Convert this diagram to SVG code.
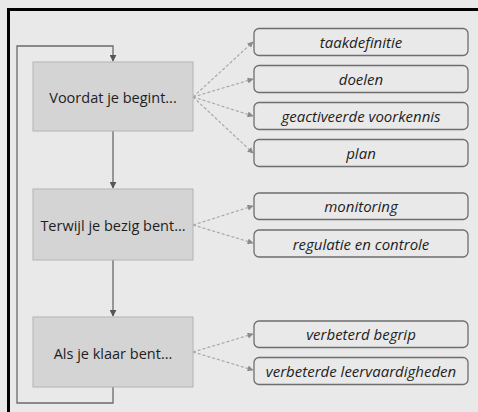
<svg xmlns="http://www.w3.org/2000/svg" width="478" height="412" viewBox="0 0 478 412">
<defs>
<style>
.phase rect{fill:#d4d4d4;stroke:#b4b4b4;stroke-width:1}
.phase text{font-family:"Open Sans","Liberation Sans",sans-serif;font-size:14.5px;fill:#1e1e1e;text-anchor:middle;dominant-baseline:central}
.item rect{fill:#e9e9e9;stroke:#6e6e6e;stroke-width:1.3}
.item text{font-family:"Open Sans","Liberation Sans",sans-serif;font-size:15px;font-style:italic;fill:#1e1e1e;text-anchor:middle;dominant-baseline:central}
.solid{fill:none;stroke:#6a6a6a;stroke-width:1.3}
.dash{fill:none;stroke:#a8a8a8;stroke-width:1.2;stroke-dasharray:3 2}
</style>
<marker id="ah" viewBox="0 0 10 10" refX="9" refY="5" markerWidth="7" markerHeight="7" markerUnits="userSpaceOnUse" orient="auto">
<path d="M0,0 L10,5 L0,10 z" fill="#555"/>
</marker>
<marker id="ahd" viewBox="0 0 10 10" refX="9" refY="5" markerWidth="6" markerHeight="6" markerUnits="userSpaceOnUse" orient="auto">
<path d="M0,0 L10,5 L0,10 z" fill="#8a8a8a"/>
</marker>
</defs>
<rect x="0" y="0" width="478" height="412" fill="#e9e9e9"/>
<path d="M8.5,412 V9.5 H478" fill="none" stroke="#000" stroke-width="3"/>

<g id="connectors">
<path class="solid" d="M113,387 V403 H17 V46 H113 V61" marker-end="url(#ah)"/>
<path class="solid" d="M113,131 V188" marker-end="url(#ah)"/>
<path class="solid" d="M113,260 V316" marker-end="url(#ah)"/>
<path class="dash" d="M193,97 L253,42" marker-end="url(#ahd)"/>
<path class="dash" d="M193,97 L253,79" marker-end="url(#ahd)"/>
<path class="dash" d="M193,97 L253,116" marker-end="url(#ahd)"/>
<path class="dash" d="M193,97 L253,153" marker-end="url(#ahd)"/>
<path class="dash" d="M193,225 L253,206" marker-end="url(#ahd)"/>
<path class="dash" d="M193,225 L253,243" marker-end="url(#ahd)"/>
<path class="dash" d="M193,352 L253,334" marker-end="url(#ahd)"/>
<path class="dash" d="M193,352 L253,370" marker-end="url(#ahd)"/>
</g>

<g id="voordat" class="phase"><rect x="33" y="62" width="160" height="69"/><text x="113" y="97">Voordat je begint...</text></g>
<g id="terwijl" class="phase"><rect x="33" y="189" width="160" height="71"/><text x="113" y="225">Terwijl je bezig bent...</text></g>
<g id="klaar" class="phase"><rect x="33" y="317" width="160" height="70"/><text x="113" y="353">Als je klaar bent...</text></g>

<g id="taakdefinitie" class="item"><rect x="254" y="28.5" width="214" height="27" rx="5"/><text x="361" y="42">taakdefinitie</text></g>
<g id="doelen" class="item"><rect x="254" y="65.5" width="214" height="27" rx="5"/><text x="361" y="79">doelen</text></g>
<g id="voorkennis" class="item"><rect x="254" y="102.5" width="214" height="27" rx="5"/><text x="361" y="116">geactiveerde voorkennis</text></g>
<g id="plan" class="item"><rect x="254" y="139.5" width="214" height="27" rx="5"/><text x="361" y="153">plan</text></g>
<g id="monitoring" class="item"><rect x="254" y="193" width="214" height="26.5" rx="5"/><text x="361" y="206">monitoring</text></g>
<g id="regulatie" class="item"><rect x="254" y="230" width="214" height="27" rx="5"/><text x="361" y="243.5">regulatie en controle</text></g>
<g id="begrip" class="item"><rect x="254" y="321" width="214" height="26.5" rx="5"/><text x="361" y="334">verbeterd begrip</text></g>
<g id="leervaardigheden" class="item"><rect x="254" y="357.5" width="214" height="27" rx="5"/><text x="361" y="371">verbeterde leervaardigheden</text></g>
</svg>
